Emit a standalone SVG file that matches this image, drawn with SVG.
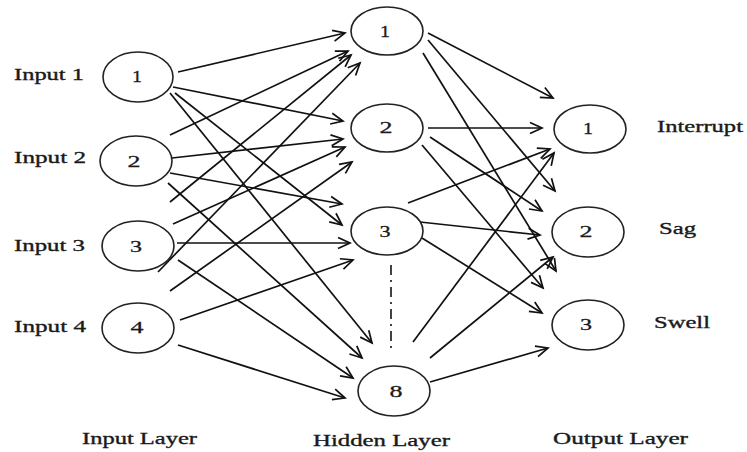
<svg xmlns="http://www.w3.org/2000/svg" width="747" height="452" viewBox="0 0 747 452">
<defs>
<marker id="arr" markerUnits="userSpaceOnUse" markerWidth="16" markerHeight="14" refX="13" refY="7" orient="auto">
<path d="M1,1.5 L13,7 L1,12.5" fill="none" stroke="#111" stroke-width="1.7"/>
</marker>
<style>
.n{fill:#fff;stroke:#222;stroke-width:1.6}
.t{font-family:"Liberation Serif","Times New Roman",serif;font-size:17px;fill:#1a1a1a;stroke:#1a1a1a;stroke-width:0.35}
.d{font-family:"Liberation Serif","Times New Roman",serif;font-size:17px;fill:#1a1a1a;stroke:#1a1a1a;stroke-width:0.3;text-anchor:middle}
.c line{stroke:#111;stroke-width:1.7;marker-end:url(#arr)}
</style>
</defs>
<rect width="747" height="452" fill="#fff"/>
<g id="connectors" class="c">
<line x1="178" y1="72" x2="345" y2="33"/>
<line x1="173" y1="87" x2="343" y2="121"/>
<line x1="175" y1="93" x2="342" y2="225"/>
<line x1="170" y1="93" x2="372" y2="343"/>
<line x1="170" y1="135" x2="348" y2="51"/>
<line x1="172" y1="158" x2="343" y2="139"/>
<line x1="170" y1="173" x2="342" y2="204"/>
<line x1="168" y1="183" x2="362" y2="358"/>
<line x1="170" y1="202" x2="351" y2="55"/>
<line x1="173" y1="224" x2="345" y2="147"/>
<line x1="177" y1="243" x2="350" y2="243"/>
<line x1="178" y1="260" x2="353" y2="378"/>
<line x1="158" y1="272" x2="360" y2="63"/>
<line x1="170" y1="291" x2="352" y2="162"/>
<line x1="180" y1="320" x2="353" y2="260"/>
<line x1="178" y1="345" x2="345" y2="398"/>
<line x1="428" y1="33" x2="553" y2="98"/>
<line x1="428" y1="40" x2="555" y2="191"/>
<line x1="423" y1="53" x2="556" y2="271"/>
<line x1="428" y1="128" x2="542" y2="128"/>
<line x1="430" y1="137" x2="542" y2="211"/>
<line x1="422" y1="145" x2="543" y2="288"/>
<line x1="408" y1="203" x2="550" y2="149"/>
<line x1="420" y1="222" x2="540" y2="235"/>
<line x1="422" y1="238" x2="542" y2="313"/>
<line x1="413" y1="342" x2="554" y2="153"/>
<line x1="430" y1="358" x2="553" y2="257"/>
<line x1="430" y1="382" x2="548" y2="348"/>
</g>
<line x1="391" y1="265" x2="391" y2="352" stroke="#222" stroke-width="1.7" stroke-dasharray="10 5 2 5"/>
<g id="in1"><ellipse class="n" cx="138" cy="77" rx="35" ry="25"/><text class="d" x="137" y="82" textLength="10" lengthAdjust="spacingAndGlyphs">1</text></g>
<g id="in2"><ellipse class="n" cx="136" cy="161" rx="36" ry="25"/><text class="d" x="134" y="167" textLength="13" lengthAdjust="spacingAndGlyphs">2</text></g>
<g id="in3"><ellipse class="n" cx="138" cy="246" rx="36" ry="25"/><text class="d" x="136" y="252" textLength="12" lengthAdjust="spacingAndGlyphs">3</text></g>
<g id="in4"><ellipse class="n" cx="138" cy="328" rx="36" ry="25"/><text class="d" x="137" y="333" textLength="13" lengthAdjust="spacingAndGlyphs">4</text></g>
<g id="h1"><ellipse class="n" cx="387" cy="31" rx="36" ry="24"/><text class="d" x="385" y="37" textLength="10" lengthAdjust="spacingAndGlyphs">1</text></g>
<g id="h2"><ellipse class="n" cx="387" cy="128" rx="36" ry="24"/><text class="d" x="386" y="133" textLength="13" lengthAdjust="spacingAndGlyphs">2</text></g>
<g id="h3"><ellipse class="n" cx="387" cy="231" rx="36" ry="24"/><text class="d" x="385" y="237" textLength="11" lengthAdjust="spacingAndGlyphs">3</text></g>
<g id="h8"><ellipse class="n" cx="394" cy="391" rx="36" ry="25"/><text class="d" x="396" y="397" textLength="13" lengthAdjust="spacingAndGlyphs">8</text></g>
<g id="o1"><ellipse class="n" cx="590" cy="129" rx="36" ry="24"/><text class="d" x="588" y="134" textLength="10" lengthAdjust="spacingAndGlyphs">1</text></g>
<g id="o2"><ellipse class="n" cx="588" cy="232" rx="36" ry="25"/><text class="d" x="586" y="237" textLength="13" lengthAdjust="spacingAndGlyphs">2</text></g>
<g id="o3"><ellipse class="n" cx="588" cy="325" rx="36" ry="25"/><text class="d" x="586" y="330" textLength="12" lengthAdjust="spacingAndGlyphs">3</text></g>
<g id="labels">
<text class="t" x="14" y="80" textLength="70" lengthAdjust="spacingAndGlyphs">Input 1</text>
<text class="t" x="14" y="163" textLength="72" lengthAdjust="spacingAndGlyphs">Input 2</text>
<text class="t" x="14" y="251" textLength="71" lengthAdjust="spacingAndGlyphs">Input 3</text>
<text class="t" x="14" y="332" textLength="72" lengthAdjust="spacingAndGlyphs">Input 4</text>
<text class="t" x="657" y="132" textLength="86" lengthAdjust="spacingAndGlyphs">Interrupt</text>
<text class="t" x="659" y="234" textLength="37" lengthAdjust="spacingAndGlyphs">Sag</text>
<text class="t" x="654" y="328" textLength="56" lengthAdjust="spacingAndGlyphs">Swell</text>
<text class="t" x="82" y="444" textLength="115" lengthAdjust="spacingAndGlyphs">Input Layer</text>
<text class="t" x="313" y="446" textLength="137" lengthAdjust="spacingAndGlyphs">Hidden Layer</text>
<text class="t" x="553" y="444" textLength="135" lengthAdjust="spacingAndGlyphs">Output Layer</text>
</g>
</svg>
